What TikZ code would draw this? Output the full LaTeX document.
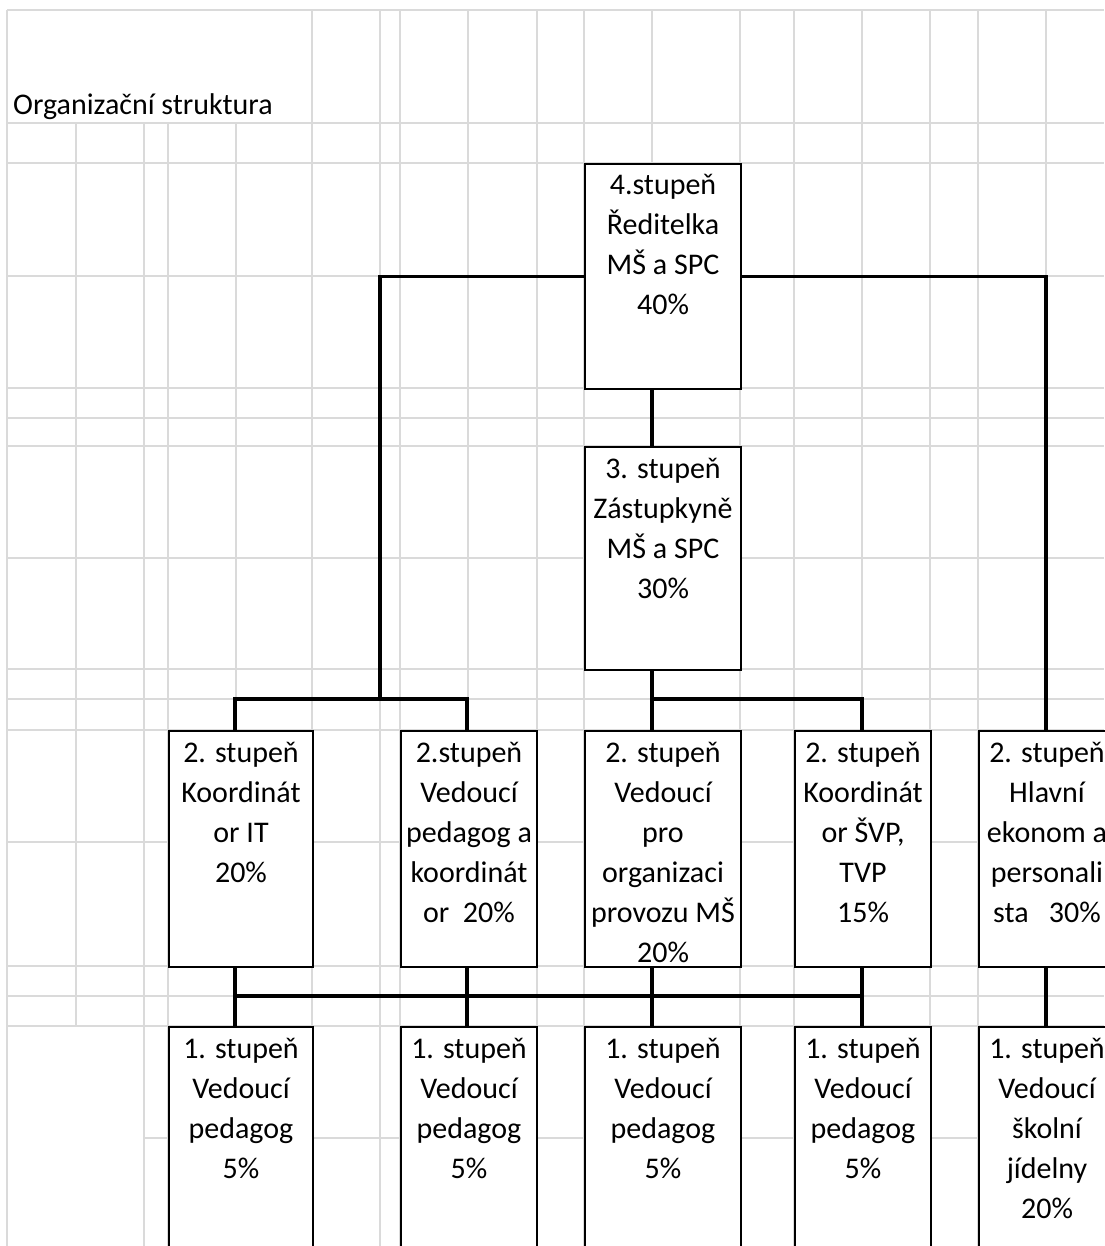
\documentclass[tikz,border=0pt]{standalone}
\usepackage{fontspec}
\setmainfont{Carlito}
\definecolor{cellgray}{RGB}{218,218,218}
\newcommand{\boxtxt}[3]{\parbox[t][#2pt][t]{#1pt}{\centering\rule{0pt}{31pt}#3}}

\begin{document}
\begin{tikzpicture}[x=1pt,y=-1pt,font=\fontsize{30}{40}\selectfont]
  \def\lw{2pt}
  \def\cw{3.5pt}

\tikzstyle{vertex}=[draw,fill=white,line width=\lw,inner sep=0pt,anchor=north west]
\tikzstyle{link}=[draw,line width=\cw]
\tikzstyle{cellline}=[draw=cellgray,line width=1.5pt]

\useasboundingbox (0,0) rectangle (1104,1246);
% sheet grid
\foreach \x in {7,312,380,400,468,537,584,652,740,794,862,930,978,1046}
  \draw[cellline] (\x,10) -- (\x,1246);
\foreach \x in {144,168,236}
  \draw[cellline] (\x,123) -- (\x,1246);
\draw[cellline] (76,123) -- (76,1026);
\foreach \y in {10,123,163,276,388,418,446,558,669,699,730,842,966,996,1026}
  \draw[cellline] (7,\y) -- (1104,\y);
\draw[cellline] (144,1138) -- (1104,1138);

\node[anchor=base west,inner sep=0pt] (title) at (13,115) {Organizační struktura};

\node[vertex] (P4) at (584,163) {\boxtxt{156}{225}{4.stupeň\\Ředitelka\\MŠ a SPC\\40\%}};
\node[vertex] (P3) at (584,446) {\boxtxt{156}{223}{3. stupeň\\Zástupkyně\\MŠ a SPC\\30\%}};

\node[vertex] (P2a) at (168,730) {\boxtxt{144}{236}{2. stupeň\\Koordinát\\or IT\\20\%}};
\node[vertex] (P2b) at (400,730) {\boxtxt{136}{236}{2.stupeň\\Vedoucí\\pedagog a\\koordinát\\or\ \ 20\%}};
\node[vertex] (P2c) at (584,730) {\boxtxt{156}{236}{2. stupeň\\Vedoucí\\pro\\organizaci\\provozu MŠ\\20\%}};
\node[vertex] (P2d) at (794,730) {\boxtxt{136}{236}{2. stupeň\\Koordinát\\or ŠVP,\\TVP\\15\%}};
\node[vertex] (P2e) at (978,730) {\boxtxt{136}{236}{2. stupeň\\Hlavní\\ekonom a\\personali\\sta\ \ \ 30\%}};

\node[vertex] (P1a) at (168,1026) {\boxtxt{144}{240}{1. stupeň\\Vedoucí\\pedagog\\5\%}};
\node[vertex] (P1b) at (400,1026) {\boxtxt{136}{240}{1. stupeň\\Vedoucí\\pedagog\\5\%}};
\node[vertex] (P1c) at (584,1026) {\boxtxt{156}{240}{1. stupeň\\Vedoucí\\pedagog\\5\%}};
\node[vertex] (P1d) at (794,1026) {\boxtxt{136}{240}{1. stupeň\\Vedoucí\\pedagog\\5\%}};
\node[vertex] (P1e) at (978,1026) {\boxtxt{136}{240}{1. stupeň\\Vedoucí\\školní\\jídelny\\20\%}};

% connector columns and buses
\coordinate (cA) at (235,0);
\coordinate (cB) at (467,0);
\coordinate (cC) at (652,0);
\coordinate (cD) at (862,0);
\coordinate (cE) at (1046,0);
\coordinate (cL) at (380,0);
\coordinate (bus1) at (0,699);
\coordinate (bus2) at (0,996);

\draw[link] (P4.west) -| (cL |- bus1) -| (P2a.north -| cA);
\draw[link] (cL |- bus1) -| (P2b.north -| cB);
\draw[link] (P4.east) -| (P2e.north -| cE);
\draw[link] (P4.south -| cC) -- (P3.north -| cC);
\draw[link] (P3.south -| cC) -- (P2c.north -| cC);
\draw[link] (cC |- bus1) -| (P2d.north -| cD);

\draw[link] (P2a.south -| cA) -- (P1a.north -| cA);
\draw[link] (P2b.south -| cB) -- (P1b.north -| cB);
\draw[link] (P2c.south -| cC) -- (P1c.north -| cC);
\draw[link] (P2d.south -| cD) -- (P1d.north -| cD);
\draw[link] (P2e.south -| cE) -- (P1e.north -| cE);
\draw[link] (cA |- bus2) -- (cD |- bus2);
\end{tikzpicture}
\end{document}
